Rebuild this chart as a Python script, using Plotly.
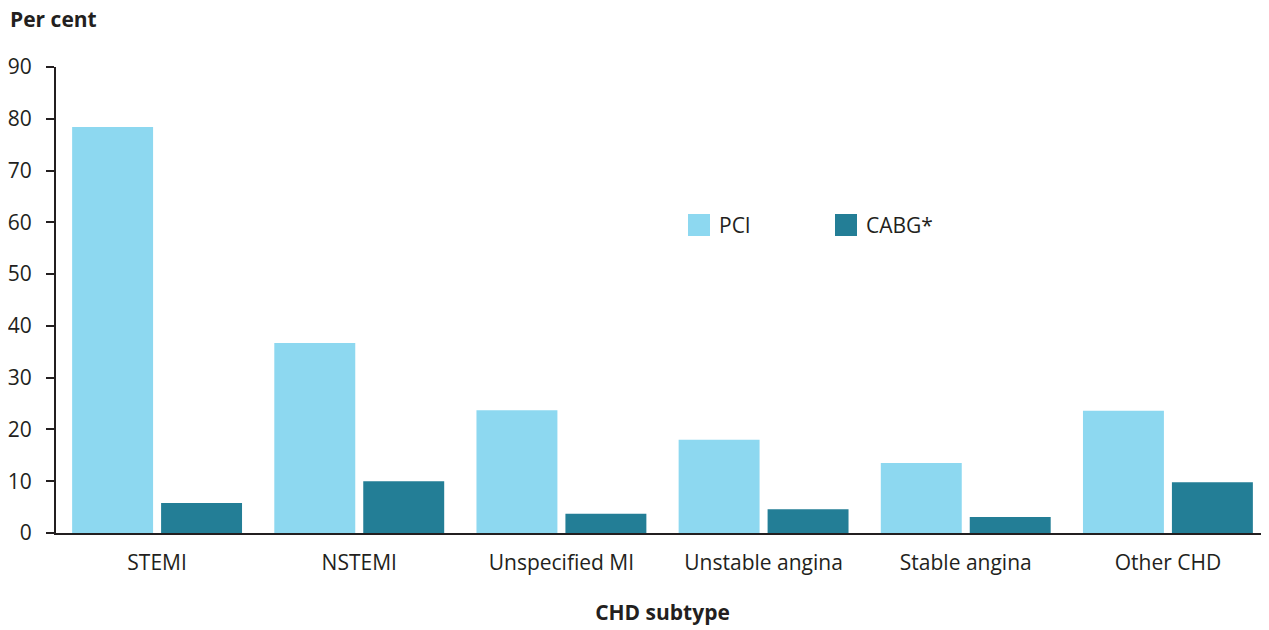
import plotly.graph_objects as go

categories = ["STEMI", "NSTEMI", "Unspecified MI", "Unstable angina", "Stable angina", "Other CHD"]
pci = [78.4, 36.7, 23.7, 18.0, 13.5, 23.6]
cabg = [5.8, 10.0, 3.7, 4.6, 3.1, 9.8]
y_ticks = [0, 10, 20, 30, 40, 50, 60, 70, 80, 90]

series = [("PCI", pci, "#8DD8F0"), ("CABG*", cabg, "#237E96")]

font_family = "Open Sans"
text_color = "#231F20"
# the page body has an 8px margin, so the figure is drawn 8px smaller
W, H = 1261, 622
margin = {"l": 48, "r": 0, "t": 59, "b": 97}

fig = go.Figure()
for name, vals, col in series:
    fig.add_trace(go.Bar(x=categories, y=vals, name=name, marker_color=col,
                         marker_line_width=0, showlegend=False))

# legend drawn by hand so the swatches can be the size of the original
pw = W - margin["l"] - margin["r"]
ph = H - margin["t"] - margin["b"]
shapes = []
annotations = []
for i, (name, vals, col) in enumerate(series):
    x0 = (680 + i * 147 - margin["l"]) / pw
    x1 = x0 + 22 / pw
    yc = (H - margin["b"] - 217) / ph
    shapes.append({"type": "rect", "xref": "paper", "yref": "paper",
                   "x0": x0, "x1": x1, "y0": yc - 11 / ph, "y1": yc + 11 / ph,
                   "fillcolor": col, "line": {"width": 0}})
    annotations.append({"text": name, "xref": "paper", "yref": "paper",
                        "x": x1 + 7 / pw, "y": yc, "xanchor": "left", "yanchor": "middle",
                        "showarrow": False, "font": {"size": 21}})

annotations.append({
    "text": "<b>Per cent</b>",
    "xref": "paper", "yref": "paper",
    "x": -48 / pw, "y": 1.0,
    "xanchor": "left", "yanchor": "middle",
    "yshift": 48,
    "showarrow": False,
    "font": {"size": 21},
})

fig.update_layout(
    width=W,
    height=H,
    margin=margin,
    font={"family": font_family, "size": 21, "color": text_color},
    paper_bgcolor="white",
    plot_bgcolor="white",
    barmode="group",
    bargap=0.12,
    bargroupgap=0.09,
    xaxis={
        "showline": True,
        "linecolor": text_color,
        "linewidth": 2,
        "ticks": "",
        "showgrid": False,
        "automargin": False,
        "ticklabelstandoff": 10,
        "tickfont": {"size": 21},
        "title": {"text": "<b>CHD subtype</b>", "standoff": 30, "font": {"size": 21}},
    },
    yaxis={
        "range": [0, 90],
        "tickvals": y_ticks,
        "showline": True,
        "linecolor": text_color,
        "linewidth": 2,
        "ticks": "outside",
        "ticklen": 8,
        "tickwidth": 2,
        "tickcolor": text_color,
        "showgrid": False,
        "zeroline": False,
        "automargin": False,
        "ticklabelstandoff": 10,
        "tickfont": {"size": 21},
    },
    shapes=shapes,
    annotations=annotations,
)

fig.write_html("out.html")
